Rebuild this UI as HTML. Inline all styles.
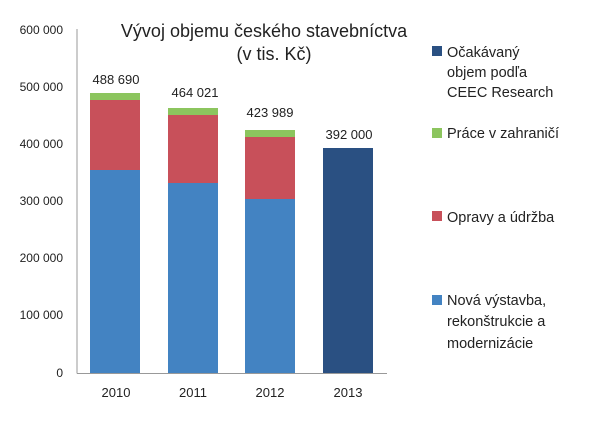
<!DOCTYPE html>
<html><head><meta charset="utf-8"><style>
body{margin:0;background:#fff;}
svg{display:block;font-family:"Liberation Sans","DejaVu Sans",sans-serif;}
</style></head><body>
<svg width="600" height="428" viewBox="0 0 600 428">
<g font-size="12" fill="#222" text-anchor="end">
<text x="63" y="34">600 000</text>
<text x="63" y="91">500 000</text>
<text x="63" y="148">400 000</text>
<text x="63" y="205">300 000</text>
<text x="63" y="262">200 000</text>
<text x="63" y="319">100 000</text>
<text x="63" y="377">0</text>
</g>
<line x1="77" y1="29" x2="77" y2="373.5" stroke="#999" stroke-width="1"/>
<line x1="77" y1="373.5" x2="387" y2="373.5" stroke="#999" stroke-width="1"/>
<rect x="90" y="170" width="50" height="203" fill="#4383c2"/>
<rect x="90" y="100" width="50" height="70" fill="#c8505a"/>
<rect x="90" y="93" width="50" height="7" fill="#8cc55e"/>
<rect x="168" y="183" width="50" height="190" fill="#4383c2"/>
<rect x="168" y="115" width="50" height="68" fill="#c8505a"/>
<rect x="168" y="108" width="50" height="7" fill="#8cc55e"/>
<rect x="245" y="199" width="50" height="174" fill="#4383c2"/>
<rect x="245" y="137" width="50" height="62" fill="#c8505a"/>
<rect x="245" y="130" width="50" height="7" fill="#8cc55e"/>
<rect x="323" y="148" width="50" height="225" fill="#2a5082"/>
<g font-size="13" fill="#222" text-anchor="middle">
<text x="116" y="84">488 690</text>
<text x="195" y="97">464 021</text>
<text x="270" y="117">423 989</text>
<text x="349" y="139">392 000</text>
<text x="116" y="397">2010</text>
<text x="193" y="397">2011</text>
<text x="270" y="397">2012</text>
<text x="348" y="397">2013</text>
</g>
<g font-size="18" fill="#222" text-anchor="middle">
<text x="264" y="37">Vývoj objemu českého stavebníctva</text>
<text x="274" y="60">(v tis. Kč)</text>
</g>
<rect x="432" y="46" width="10" height="10" fill="#2a5082"/>
<rect x="432" y="128" width="10" height="10" fill="#8cc55e"/>
<rect x="432" y="211" width="10" height="10" fill="#c8505a"/>
<rect x="432" y="295" width="10" height="10" fill="#4383c2"/>
<g font-size="14.5" fill="#222">
<text x="447" y="57">Očakávaný</text>
<text x="447" y="77">objem podľa</text>
<text x="447" y="97">CEEC Research</text>
<text x="447" y="138">Práce v zahraničí</text>
<text x="447" y="222">Opravy a údržba</text>
<text x="447" y="305">Nová výstavba,</text>
<text x="447" y="326">rekonštrukcie a</text>
<text x="447" y="348">modernizácie</text>
</g>
</svg>
</body></html>
